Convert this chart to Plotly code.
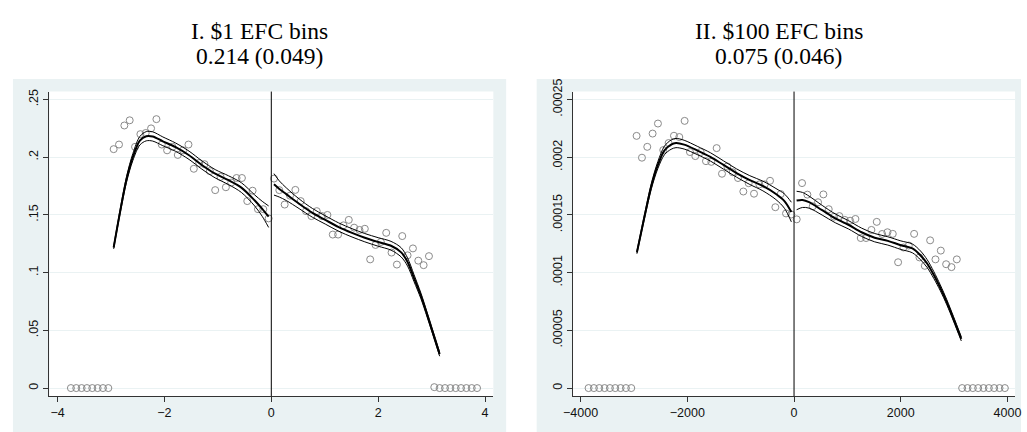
import plotly.graph_objects as go

W, H = 1027, 432

# ---------------- Panel I: $1 EFC bins ----------------
p1_x = [-3.75, -3.65, -3.55, -3.45, -3.35, -3.25, -3.15, -3.05,
        -2.95, -2.85, -2.75, -2.65, -2.55, -2.45, -2.35, -2.25, -2.15, -2.05,
        -1.95, -1.85, -1.75, -1.65, -1.55, -1.45, -1.35, -1.25, -1.15, -1.05,
        -0.95, -0.85, -0.75, -0.65, -0.55, -0.45, -0.35, -0.25, -0.15, -0.05,
        0.05, 0.15, 0.25, 0.35, 0.45, 0.55, 0.65, 0.75, 0.85, 0.95,
        1.05, 1.15, 1.25, 1.35, 1.45, 1.55, 1.65, 1.75, 1.85, 1.95,
        2.05, 2.15, 2.25, 2.35, 2.45, 2.55, 2.65, 2.75, 2.85, 2.95,
        3.05, 3.15, 3.25, 3.35, 3.45, 3.55, 3.65, 3.75, 3.85]
p1_y = [0, 0, 0, 0, 0, 0, 0, 0,
        0.207, 0.211, 0.2275, 0.232, 0.209, 0.220, 0.221, 0.225, 0.233, 0.211,
        0.206, 0.209, 0.202, 0.206, 0.211, 0.190, 0.195, 0.194, 0.188, 0.1715,
        0.183, 0.174, 0.178, 0.182, 0.182, 0.162, 0.171, 0.155, 0.155, 0.147,
        0.1815, 0.1715, 0.159, 0.1667, 0.1717, 0.162, 0.1533, 0.149, 0.1533, 0.149,
        0.150, 0.133, 0.133, 0.141, 0.1457, 0.139, 0.137, 0.138, 0.1115, 0.124,
        0.1266, 0.1345, 0.1174, 0.107, 0.1317, 0.115, 0.121, 0.1104, 0.1065, 0.1143,
        0.0008, 0, 0, 0, 0, 0, 0, 0, 0]

# fitted polynomial + CI, left of cutoff
p1_fitL_x = [-2.95, -2.83, -2.71, -2.59, -2.46, -2.34, -2.22, -2.03, -1.79, -1.54,
             -1.30, -1.05, -0.80, -0.56, -0.31, -0.17, -0.05]
p1_fitL = [0.1218, 0.1527, 0.1807, 0.2003, 0.2143, 0.2182, 0.2180, 0.2138, 0.2087, 0.2017,
           0.1933, 0.1857, 0.1801, 0.1737, 0.1625, 0.1553, 0.1485]
p1_hiL = [0.1230, 0.1545, 0.1831, 0.2033, 0.2180, 0.2222, 0.2220, 0.2176, 0.2123, 0.2053,
          0.1969, 0.1893, 0.1839, 0.1779, 0.1673, 0.1618, 0.1578]
p1_loL = [0.1206, 0.1509, 0.1783, 0.1973, 0.2106, 0.2142, 0.2140, 0.2100, 0.2051, 0.1981,
          0.1897, 0.1821, 0.1763, 0.1695, 0.1577, 0.1488, 0.1392]
# right of cutoff
p1_fitR_x = [0.05, 0.15, 0.28, 0.52, 0.77, 1.01, 1.26, 1.51, 1.75, 2.00,
             2.24, 2.43, 2.55, 2.67, 2.80, 2.92, 3.15]
p1_fitR = [0.1765, 0.1725, 0.1680, 0.1597, 0.1518, 0.1457, 0.1395, 0.1345, 0.1303, 0.1266,
           0.1233, 0.1176, 0.1092, 0.0953, 0.0798, 0.0630, 0.0294]
p1_hiR = [0.1858, 0.1795, 0.1735, 0.1639, 0.1556, 0.1493, 0.1431, 0.1381, 0.1339, 0.1303,
          0.1271, 0.1216, 0.1127, 0.0983, 0.0822, 0.0650, 0.0312]
p1_loR = [0.1672, 0.1655, 0.1625, 0.1555, 0.1480, 0.1421, 0.1359, 0.1309, 0.1267, 0.1229,
          0.1195, 0.1136, 0.1057, 0.0923, 0.0774, 0.0610, 0.0276]

p1_xticks = [-4, -2, 0, 2, 4]
p1_xticktext = ["\u22124", "\u22122", "0", "2", "4"]
p1_yticks = [0, 0.05, 0.10, 0.15, 0.20, 0.25]
p1_yticktext = ["0", ".05", ".1", ".15", ".2", ".25"]
p1_title = ["I. $1 EFC bins", "0.214 (0.049)"]

# ---------------- Panel II: $100 EFC bins ----------------
p2_x = [-3850, -3750, -3650, -3550, -3450, -3350, -3250, -3150, -3050,
        -2950, -2850, -2750, -2650, -2550, -2450, -2350, -2250, -2150, -2050,
        -1950, -1850, -1750, -1650, -1550, -1450, -1350, -1250, -1150, -1050,
        -950, -850, -750, -650, -550, -450, -350, -250, -150, -50,
        50, 150, 250, 350, 450, 550, 650, 750, 850, 950,
        1050, 1150, 1250, 1350, 1450, 1550, 1650, 1750, 1850, 1950,
        2050, 2150, 2250, 2350, 2450, 2550, 2650, 2750, 2850, 2950,
        3050,
        3150, 3250, 3350, 3450, 3550, 3650, 3750, 3850, 3950]
p2_y = [0, 0, 0, 0, 0, 0, 0, 0, 0,
        0.0002185, 0.0001996, 0.000209, 0.0002205, 0.0002292, 0.0002062, 0.0002123, 0.0002186, 0.0002175, 0.0002315,
        0.0002045, 0.000201, 0.0002045, 0.0001966, 0.000196, 0.0002079, 0.0001857, 0.000192, 0.000187, 0.000182,
        0.0001703, 0.0001775, 0.0001684, 0.0001765, 0.0001765, 0.0001796, 0.0001567, 0.0001681, 0.0001513, 0.0001504,
        0.0001462, 0.0001776, 0.0001676, 0.0001575, 0.000161, 0.0001678, 0.000155, 0.0001485, 0.000149, 0.0001457,
        0.000145, 0.0001465, 0.00013, 0.00013, 0.000137, 0.000144, 0.0001335, 0.000135, 0.0001336, 0.000109,
        0.0001218, 0.0001235, 0.0001336, 0.0001132, 0.0001059, 0.000128, 0.0001115, 0.0001191, 0.0001073, 0.0001048,
        0.0001115,
        0, 0, 0, 0, 0, 0, 0, 0, 0]

p2_fitL_x = [-2944, -2796, -2673, -2551, -2428, -2304, -2212, -2059, -1814, -1567,
             -1322, -1076, -829, -584, -339, -180, -50]
p2_fitL = [1.176e-4, 1.499e-4, 1.751e-4, 1.933e-4, 2.059e-4, 2.109e-4, 2.123e-4, 2.109e-4, 2.059e-4, 2.003e-4,
           1.933e-4, 1.863e-4, 1.802e-4, 1.751e-4, 1.681e-4, 1.620e-4, 1.525e-4]
p2_hiL = [1.188e-4, 1.517e-4, 1.775e-4, 1.963e-4, 2.096e-4, 2.149e-4, 2.163e-4, 2.147e-4, 2.095e-4, 2.039e-4,
          1.969e-4, 1.899e-4, 1.840e-4, 1.793e-4, 1.729e-4, 1.682e-4, 1.610e-4]
p2_loL = [1.164e-4, 1.481e-4, 1.727e-4, 1.903e-4, 2.022e-4, 2.069e-4, 2.083e-4, 2.071e-4, 2.023e-4, 1.967e-4,
          1.897e-4, 1.827e-4, 1.764e-4, 1.709e-4, 1.633e-4, 1.558e-4, 1.440e-4]
p2_fitR_x = [48, 159, 282, 527, 774, 1019, 1265, 1511, 1757, 2002,
             2218, 2371, 2494, 2617, 2740, 2863, 2986, 3134]
p2_fitR = [1.625e-4, 1.630e-4, 1.611e-4, 1.541e-4, 1.470e-4, 1.415e-4, 1.350e-4, 1.303e-4, 1.275e-4, 1.238e-4,
           1.210e-4, 1.149e-4, 1.079e-4, 0.981e-4, 0.869e-4, 0.743e-4, 0.602e-4, 0.426e-4]
p2_hiR = [1.705e-4, 1.695e-4, 1.663e-4, 1.583e-4, 1.508e-4, 1.451e-4, 1.386e-4, 1.339e-4, 1.311e-4, 1.275e-4,
          1.248e-4, 1.187e-4, 1.113e-4, 1.011e-4, 0.894e-4, 0.765e-4, 0.622e-4, 0.444e-4]
p2_loR = [1.545e-4, 1.565e-4, 1.559e-4, 1.499e-4, 1.432e-4, 1.379e-4, 1.314e-4, 1.267e-4, 1.239e-4, 1.201e-4,
          1.172e-4, 1.111e-4, 1.045e-4, 0.951e-4, 0.844e-4, 0.721e-4, 0.582e-4, 0.408e-4]

p2_xticks = [-4000, -2000, 0, 2000, 4000]
p2_xticktext = ["\u22124000", "\u22122000", "0", "2000", "4000"]
p2_yticks = [0, 0.00005, 0.0001, 0.00015, 0.0002, 0.00025]
p2_yticktext = ["0", ".00005", ".0001", ".00015", ".0002", ".00025"]
p2_title = ["II. $100 EFC bins", "0.075 (0.046)"]

cutoff = 0

# ---------------- styling ----------------
BG = "#EAF2F3"
MARK = "#8a8a8a"
AX = "#333333"
SANS = "Liberation Sans, Arial, sans-serif"
SERIF = "Liberation Serif, Times New Roman, serif"

fig = go.Figure()


def add_panel(xa, ya, px, py, fits):
    fig.add_trace(go.Scatter(x=px, y=py, mode="markers", xaxis=xa, yaxis=ya,
                             marker=dict(symbol="circle-open", size=7, color=MARK,
                                         line=dict(width=1, color=MARK)),
                             hoverinfo="skip", showlegend=False))
    for fx, fy, w in fits:
        fig.add_trace(go.Scatter(x=fx, y=fy, mode="lines", xaxis=xa, yaxis=ya,
                                 line=dict(color="black", width=w, shape="spline", smoothing=0.9),
                                 hoverinfo="skip", showlegend=False))


add_panel("x", "y", p1_x, p1_y,
          [(p1_fitL_x, p1_hiL, 1), (p1_fitL_x, p1_loL, 1), (p1_fitL_x, p1_fitL, 2),
           (p1_fitR_x, p1_hiR, 1), (p1_fitR_x, p1_loR, 1), (p1_fitR_x, p1_fitR, 2)])
add_panel("x2", "y2", p2_x, p2_y,
          [(p2_fitL_x, p2_hiL, 1), (p2_fitL_x, p2_loL, 1), (p2_fitL_x, p2_fitL, 2),
           (p2_fitR_x, p2_hiR, 1), (p2_fitR_x, p2_loR, 1), (p2_fitR_x, p2_fitR, 2)])


def px_x(v):
    return v / W


def px_y(v):
    return 1 - v / H


plot_top, plot_bot = 81, 395
dom1 = [px_x(40), px_x(491)]
dom2 = [px_x(572), px_x(1021)]
ydom = [px_y(plot_bot), px_y(plot_top)]

common_x = dict(ticks="outside", ticklen=5, tickwidth=1, tickcolor=AX, showline=True,
                linecolor=AX, linewidth=1, showgrid=False, zeroline=False,
                ticklabeloverflow="allow",
                tickfont=dict(family=SANS, size=12.5, color="#111"))
common_y = dict(ticks="outside", ticklen=5, tickwidth=1, tickcolor=AX, showline=True,
                linecolor=AX, linewidth=1, showgrid=True, gridcolor=BG, gridwidth=1,
                zeroline=False, tickangle=-90, ticklabeloverflow="allow",
                tickfont=dict(family=SANS, size=12.5, color="#111"))

fig.update_layout(
    width=W, height=H, margin=dict(l=0, r=0, t=0, b=0),
    paper_bgcolor="white", plot_bgcolor="white",
    xaxis=dict(domain=dom1, range=[-4.153, 4.155], anchor="y",
               tickvals=p1_xticks, ticktext=p1_xticktext, **common_x),
    yaxis=dict(domain=ydom, range=[-0.00697, 0.2569], anchor="x",
               tickvals=p1_yticks, ticktext=p1_yticktext, **common_y),
    xaxis2=dict(domain=dom2, range=[-4140, 4142], anchor="y2",
                tickvals=p2_xticks, ticktext=p2_xticktext, **common_x),
    yaxis2=dict(domain=ydom, range=[-0.00000697, 0.0002569], anchor="x2",
                tickvals=p2_yticks, ticktext=p2_yticktext, **common_y),
)

shapes = [
    dict(type="rect", xref="paper", yref="paper", x0=px_x(3), x1=px_x(504),
         y0=px_y(432), y1=px_y(68), fillcolor=BG, line=dict(width=0), layer="below"),
    dict(type="rect", xref="paper", yref="paper", x0=px_x(535), x1=px_x(1027),
         y0=px_y(432), y1=px_y(68), fillcolor=BG, line=dict(width=0), layer="below"),
    dict(type="rect", xref="paper", yref="paper", x0=dom1[0], x1=dom1[1],
         y0=ydom[0], y1=ydom[1], fillcolor="white", line=dict(width=0), layer="below"),
    dict(type="rect", xref="paper", yref="paper", x0=dom2[0], x1=dom2[1],
         y0=ydom[0], y1=ydom[1], fillcolor="white", line=dict(width=0), layer="below"),
    dict(type="line", xref="x", yref="y domain", x0=cutoff, x1=cutoff, y0=0, y1=1,
         line=dict(color="black", width=1)),
    dict(type="line", xref="x2", yref="y2 domain", x0=cutoff, x1=cutoff, y0=0, y1=1,
         line=dict(color="black", width=1)),
]
fig.update_layout(shapes=shapes)

annotations = []
for cx, lines in ((253.5, p1_title), (781, p2_title)):
    for cy, txt in zip((18.3, 44.3), lines):
        annotations.append(dict(xref="paper", yref="paper", x=px_x(cx), y=px_y(cy),
                                xanchor="center", yanchor="middle", showarrow=False,
                                borderpad=0,
                                text=txt, font=dict(family=SERIF, size=23.5, color="black")))
fig.update_layout(annotations=annotations)

post = ("var d=document.getElementById('{plot_id}');"
        "document.body.style.margin='0';document.body.style.overflow='hidden';"
        "d.style.position='fixed';d.style.left='0px';d.style.top='0px';")
fig.write_html("out.html", post_script=post, config={"displayModeBar": False})
